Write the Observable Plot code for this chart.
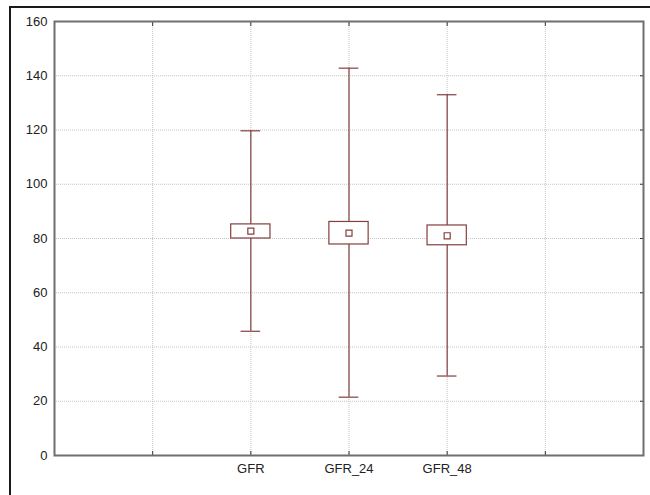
<!DOCTYPE html>
<html>
<head>
<meta charset="utf-8">
<script src="https://cdn.jsdelivr.net/npm/d3@7"></script>
<script src="https://cdn.jsdelivr.net/npm/@observablehq/plot@0.6"></script>
<style>
  html, body { margin: 0; padding: 0; background: #fff; }
  #wrap { position: relative; width: 650px; height: 495px; overflow: hidden; }
  #outer { position: absolute; left: 9px; top: 6px; width: 700px; height: 600px; border: 2px solid #1a1a1a; box-sizing: border-box; pointer-events: none; }
  #chart { position: absolute; left: 0; top: 0; }
</style>
</head>
<body>
<div id="wrap">
  <div id="chart"></div>
  <div id="outer"></div>
</div>
<script>
// Data
const categories = ["GFR", "GFR_24", "GFR_48"];
const positions = [2, 3, 4];            // category slots on a 0..6 axis
const gridPositions = [1, 2, 3, 4, 5];  // vertical grid / tick slots
const means = [82.7, 82.0, 81.0];
const boxLow = [80.0, 77.8, 77.5];
const boxHigh = [85.2, 86.1, 84.8];
const whiskerMin = [45.8, 21.5, 29.3];
const whiskerMax = [119.7, 142.8, 133.0];
const yTicks = [0, 20, 40, 60, 80, 100, 120, 140, 160];

const data = categories.map((c, i) => ({
  cat: c, pos: positions[i], mean: means[i],
  lo: boxLow[i], hi: boxHigh[i], min: whiskerMin[i], max: whiskerMax[i]
}));

const color = "#853e3e";
const capHalf = 0.1;
const boxHalf = 0.2;
const labelOf = new Map(positions.map((p, i) => [p, categories[i]]));

const chart = Plot.plot({
  width: 650,
  height: 495,
  marginLeft: 54,
  marginRight: 7,
  marginTop: 21,
  marginBottom: 40,
  style: { fontFamily: "'Liberation Sans', Arial, sans-serif", fontSize: "13px", color: "#222", background: "transparent" },
  x: { domain: [0, 6] },
  y: { domain: [0, 160] },
  marks: [
    Plot.ruleY(yTicks.filter(v => v > 0 && v < 160), { stroke: "#c4c4c4", strokeDasharray: "1,1" }),
    Plot.ruleX(gridPositions, { stroke: "#c4c4c4", strokeDasharray: "1,1" }),
    // whiskers
    Plot.ruleX(data, { x: "pos", y1: "min", y2: "max", stroke: color, strokeWidth: 1.2 }),
    Plot.ruleY(data, { y: "max", x1: d => d.pos - capHalf, x2: d => d.pos + capHalf, stroke: color, strokeWidth: 1.2 }),
    Plot.ruleY(data, { y: "min", x1: d => d.pos - capHalf, x2: d => d.pos + capHalf, stroke: color, strokeWidth: 1.2 }),
    // boxes
    Plot.rect(data, { x1: d => d.pos - boxHalf, x2: d => d.pos + boxHalf, y1: "lo", y2: "hi", fill: "white", stroke: color, strokeWidth: 1.2 }),
    // means
    Plot.dot(data, { x: "pos", y: "mean", symbol: "square", r: 3.4, fill: "white", stroke: color, strokeWidth: 1.2 }),
    // axes
    Plot.axisY({ anchor: "left", ticks: yTicks, tickSize: 0, tickPadding: 7, label: null, fill: "#222" }),
    Plot.axisY({ anchor: "right", ticks: yTicks, tickSize: -4, text: null, label: null, stroke: "#333" }),
    Plot.axisX({ anchor: "bottom", ticks: positions, tickSize: 0, tickPadding: 8, tickFormat: d => labelOf.get(d), label: null, fill: "#222" }),
    Plot.axisX({ anchor: "bottom", ticks: gridPositions, tickSize: -4, text: null, label: null, stroke: "#333" }),
    Plot.axisX({ anchor: "top", ticks: gridPositions, tickSize: -4, text: null, label: null, stroke: "#333" }),
    Plot.frame({ stroke: "#6e6e6e", strokeWidth: 2 })
  ]
});
document.getElementById("chart").appendChild(chart);
</script>
</body>
</html>
